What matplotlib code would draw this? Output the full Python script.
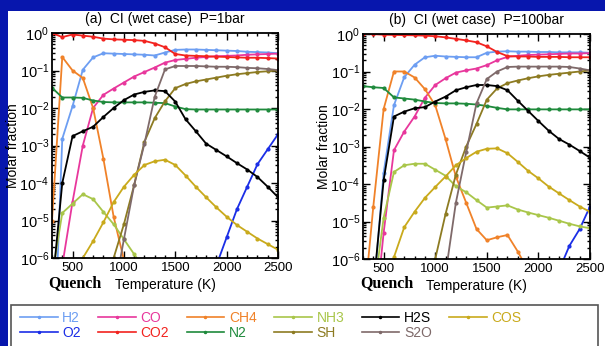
import numpy as np
import matplotlib
matplotlib.use("Agg")
import matplotlib.pyplot as plt
from matplotlib.patches import Rectangle
from matplotlib.ticker import MultipleLocator, LogLocator

plt.rcParams['font.family'] = ['Liberation Sans', 'DejaVu Sans']
plt.rcParams['mathtext.fontset'] = 'custom'
plt.rcParams['mathtext.rm'] = 'Liberation Sans'
plt.rcParams['mathtext.it'] = 'Liberation Sans'
plt.rcParams['mathtext.bf'] = 'Liberation Sans:bold'

nan = np.nan

# temperature grid (K)
temps = list(range(300, 2600, 100))

species = ['H2', 'O2', 'CO', 'CO2', 'CH4', 'N2', 'NH3', 'SH', 'H2S', 'S2O', 'COS']
colors = ['#6d9ef2', '#1b2ee6', '#e8379c', '#f2231f', '#f08229', '#1f8a3c',
          '#a9c64a', '#8d7b22', '#000000', '#7f6a6a', '#c9aa1c']

# log10 of molar fraction, panel (a) P=1bar
h2_a = [-10, -2.82, -1.95, -0.98, -0.65, -0.54, -0.55, -0.56, -0.57, -0.58, -0.6, -0.52,
        -0.45, -0.44, -0.44, -0.45, -0.46, -0.47, -0.48, -0.5, -0.51, -0.52, -0.54]
o2_a = [nan] * 15 + [-7, -6.2, -5.45, -4.7, -4.1, -3.5, -3.1, -2.7]
co_a = [nan, -6.2, -4.5, -3.0, -2.0, -1.65, -1.48, -1.32, -1.16, -1.04, -0.92, -0.79,
        -0.72, -0.69, -0.66, -0.64, -0.62, -0.61, -0.6, -0.58, -0.57, -0.56, -0.55]
co2_a = [0.0, -0.11, -0.04, -0.07, -0.1, -0.15, -0.17, -0.18, -0.19, -0.21, -0.28, -0.38,
         -0.56, -0.6, -0.61, -0.62, -0.63, -0.64, -0.65, -0.66, -0.66, -0.67, -0.68]
ch4_a = [-5.0, -0.64, -1.0, -1.2, -2.0, -3.35, -4.9, -6.05] + [nan] * 15
n2_a = [-1.46, -1.72, -1.72, -1.73, -1.8, -1.84, -1.85, -1.85, -1.85, -1.85, -1.86, -1.87,
        -1.96, -2.03, -2.04, -2.04, -2.04, -2.04, -2.04, -2.04, -2.04, -2.04, -2.04]
nh3_a = [-6.5, -4.8, -4.55, -4.3, -4.43, -4.77, -5.1, -5.5, -5.9, -6.3] + [nan] * 13
sh_a = [nan] * 5 + [-7, -6.0, -5.1, -4.05, -2.9, -2.27, -1.82, -1.47, -1.36, -1.29, -1.24,
                    -1.19, -1.14, -1.1, -1.07, -1.04, -1.02, -1.0]
h2s_a = [-6.86, -4.0, -2.75, -2.62, -2.5, -2.24, -2.0, -1.79, -1.64, -1.57, -1.53, -1.55,
         -1.83, -2.3, -2.62, -2.95, -3.12, -3.29, -3.47, -3.64, -3.84, -4.1, -4.38]
s2o_a = [nan] * 6 + [-7, -5.5, -4.05, -2.95, -1.7, -0.97, -0.88, -0.88, -0.88, -0.89,
                     -0.9, -0.9, -0.91, -0.93, -0.94, -0.96, -0.99]
cos_a = [nan, nan, -7.5, -6.0, -5.55, -5.05, -4.51, -4.1, -3.78, -3.52, -3.42, -3.38,
         -3.52, -3.8, -4.1, -4.38, -4.65, -4.9, -5.12, -5.3, -5.48, -5.63, -5.78]

# log10 of molar fraction, panel (b) P=100bar
h2_b = [nan, -7.0, -3.7, -1.9, -1.15, -0.82, -0.62, -0.58, -0.6, -0.61, -0.62, -0.62,
        -0.5, -0.47, -0.46, -0.47, -0.47, -0.48, -0.48, -0.49, -0.49, -0.49, -0.5]
o2_b = [nan] * 18 + [-7.5, -6.3, -5.65, -5.2, -4.6]
co_b = [nan, -8.0, -5.3, -3.1, -2.6, -2.2, -1.7, -1.36, -1.18, -1.03, -0.97, -0.92,
        -0.83, -0.7, -0.61, -0.58, -0.56, -0.55, -0.54, -0.53, -0.52, -0.52, -0.51]
co2_b = [0.0, -0.005, -0.02, -0.025, -0.03, -0.035, -0.045, -0.06, -0.09, -0.13, -0.17, -0.22,
         -0.33, -0.48, -0.59, -0.6, -0.6, -0.61, -0.61, -0.61, -0.62, -0.62, -0.62]
ch4_b = [-7.5, -4.6, -2.0, -1.0, -1.0, -1.16, -1.47, -1.9, -2.8, -3.8, -4.5, -5.2,
         -5.5, -5.42, -5.36, -5.8, -6.3] + [nan] * 6
n2_b = [-1.39, -1.42, -1.44, -1.69, -1.72, -1.75, -1.8, -1.84, -1.85, -1.85, -1.86, -1.88,
        -1.92, -1.97, -2.01, -2.01, -2.01, -2.01, -2.01, -2.01, -2.01, -2.01, -2.01]
nh3_b = [nan, -7.0, -4.9, -3.68, -3.5, -3.46, -3.46, -3.62, -3.78, -4.06, -4.22, -4.43,
         -4.63, -4.6, -4.57, -4.68, -4.76, -4.83, -4.9, -4.98, -5.06, -5.13, -5.18]
sh_b = [nan] * 6 + [-7, -6.0, -4.8, -3.75, -3.0, -2.4, -1.75, -1.45, -1.31, -1.24,
                    -1.18, -1.13, -1.09, -1.06, -1.03, -1.0, -0.97]
h2s_b = [-9.0, -6.8, -3.9, -2.2, -2.07, -1.98, -1.95, -1.8, -1.67, -1.5, -1.42, -1.36,
         -1.36, -1.39, -1.5, -1.78, -2.05, -2.32, -2.58, -2.8, -2.95, -3.12, -3.3]
s2o_b = [nan] * 7 + [-8, -6.4, -4.5, -3.15, -1.85, -1.2, -1.0, -0.88, -0.87, -0.87,
                     -0.87, -0.87, -0.87, -0.88, -0.92, -0.97]
cos_b = [nan, nan, -7.0, -5.95, -5.15, -4.74, -4.37, -4.08, -3.8, -3.5, -3.31, -3.14,
         -3.06, -3.05, -3.18, -3.41, -3.65, -3.85, -4.07, -4.25, -4.43, -4.6, -4.74]

panel_a = [h2_a, o2_a, co_a, co2_a, ch4_a, n2_a, nh3_a, sh_a, h2s_a, s2o_a, cos_a]
panel_b = [h2_b, o2_b, co_b, co2_b, ch4_b, n2_b, nh3_b, sh_b, h2s_b, s2o_b, cos_b]

W, H = 605, 346
fig = plt.figure(figsize=(W / 100, H / 100), dpi=100, facecolor='#0716ad')
fig.patches.append(Rectangle((8 / W, 0), 1, 1 - 11 / H, transform=fig.transFigure,
                             facecolor='white', edgecolor='none', zorder=-10))
fig.patches.append(Rectangle((11 / W, -0.05), (598 - 11) / W, (346 - 305) / H + 0.05,
                             transform=fig.transFigure, facecolor='none',
                             edgecolor='#555555', lw=1.2, zorder=5))


def draw_panel(rect, data, title, ylab_x, quench_x):
    ax = fig.add_axes(rect)
    handles = []
    for vals, name, c in zip(data, species, colors):
        y = 10 ** np.array(vals, dtype=float)
        ln, = ax.plot(temps, y, color=c, lw=1.3, marker='o', ms=2.0, label=name)
        handles.append(ln)
    ax.set_yscale('log')
    ax.set_ylim(1e-6, 1)
    ax.set_xlim(300, 2500)
    ax.xaxis.set_major_locator(MultipleLocator(500))
    ax.xaxis.set_minor_locator(MultipleLocator(100))
    ax.yaxis.set_major_locator(LogLocator(base=10, numticks=10))
    ax.yaxis.set_minor_locator(LogLocator(base=10, subs=np.arange(2, 10), numticks=20))
    ax.tick_params(which='both', direction='in', top=True, right=True, width=1)
    ax.tick_params(which='major', length=5)
    ax.tick_params(which='minor', length=2.5)
    ax.tick_params(axis='x', labelsize=9.5, pad=3)
    ax.tick_params(axis='y', labelsize=10.5, pad=2)
    for s in ax.spines.values():
        s.set_linewidth(1.3)
    ax.set_title(title, fontsize=10, pad=7)
    ax.set_ylabel('Molar fraction', fontsize=10)
    ax.yaxis.set_label_coords(ylab_x, 0.5)
    ax.set_xlabel('Temperature (K)', fontsize=10, labelpad=3)
    fig.text(quench_x / W, 1 - 283 / H, 'Quench', family='Liberation Serif',
             weight='bold', fontsize=11.5, ha='center', va='center')
    return handles


hs = draw_panel([52 / W, 1 - 258 / H, 226 / W, 225 / H], panel_a,
                '(a)  CI (wet case)  P=1bar', -0.142, 75)
draw_panel([363 / W, 1 - 259 / H, 227 / W, 225 / H], panel_b,
           '(b)  CI (wet case)  P=100bar', -0.142, 387)

leg = fig.legend(hs, species, ncol=6, loc='upper left',
                 bbox_to_anchor=(20 / W, 1 - 311 / H), frameon=False,
                 fontsize=10, labelcolor='linecolor', handlelength=2.7,
                 handletextpad=0.35, columnspacing=1.25, labelspacing=0.05,
                 borderpad=0, borderaxespad=0)
for lh in leg.legend_handles:
    lh.set_linewidth(1.2)
    lh.set_markersize(1.5)

fig.savefig('out.png', dpi=100, facecolor=fig.get_facecolor())
